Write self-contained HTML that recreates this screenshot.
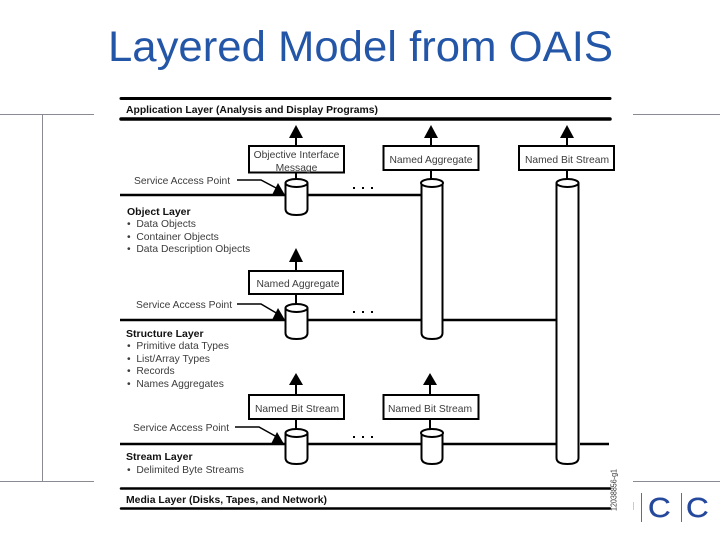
<!DOCTYPE html>
<html>
<head>
<meta charset="utf-8">
<style>
html,body{margin:0;padding:0;background:#fff;width:720px;height:540px;overflow:hidden}
svg{display:block}
text{font-family:"Liberation Sans",sans-serif}
.t{font-size:10.3px;fill:#3c3c3c}
.b{font-size:10.5px;font-weight:bold;fill:#111}
.m{text-anchor:middle}
</style>
</head>
<body>
<svg width="720" height="540" viewBox="0 0 720 540" xmlns="http://www.w3.org/2000/svg">
<!-- slide frame -->
<g stroke="#8a8a92" stroke-width="1" fill="none">
<path d="M0 114.500H94M633 114.500H720M0 481.500H94M633 481.500H720M42.500 114V481"/>
</g>
<text x="108" y="61" font-size="42.500" fill="#2456a8" textLength="505" lengthAdjust="spacingAndGlyphs">Layered Model from OAIS</text>

<!-- layer lines -->
<g stroke="#000" fill="none" stroke-linecap="round">
<path d="M121 98.500H610" stroke-width="3"/>
<path d="M121 119H610" stroke-width="3.500"/>
<path d="M121 488.500H610M121 508.500H610" stroke-width="2.500"/>
</g>
<g stroke="#000" fill="none" stroke-width="2.500">
<path d="M120 195H285M308 195H421"/>
<path d="M120 320H285M308 320H421M443 320H556"/>
<path d="M120 444H285M308 444H421M443 444H556M580 444H609"/>
</g>

<!-- stems -->
<g stroke="#000" fill="none" stroke-width="2">
<path d="M296 136V146M296 172V180M296 260V271M296 293V304M296 383V395M296 420V429"/>
<path d="M431 136V146M431 170V180M430 383V395M430 420V429M567 136V146M567 170V180"/>
</g>
<!-- arrowheads -->
<g fill="#000">
<path d="M296 125L303 138H289Z"/>
<path d="M431 125L438 138H424Z"/>
<path d="M567 125L574 138H560Z"/>
<path d="M296 248L303 262H289Z"/>
<path d="M296 373L303 385H289Z"/>
<path d="M430 373L437 385H423Z"/>
<path d="M278 183L285 195H272Z"/>
<path d="M278 308L285 320H272Z"/>
<path d="M277 432L284 444H271Z"/>
</g>
<!-- service access leaders -->
<g stroke="#000" fill="none" stroke-width="1.500">
<path d="M237 180H261L278 189"/>
<path d="M237 304H261L278 314"/>
<path d="M235 427H259L277 437"/>
</g>

<!-- cylinders -->
<g fill="#fff" stroke="#000" stroke-width="2">
<path d="M285.500 183V209Q285.500 215 296.500 215Q307.500 215 307.500 209V183"/>
<ellipse cx="296.500" cy="183" rx="11" ry="4"/>
<path d="M285.500 308V333Q285.500 339 296.500 339Q307.500 339 307.500 333V308"/>
<ellipse cx="296.500" cy="308" rx="11" ry="4"/>
<path d="M285.500 433V458Q285.500 464 296.500 464Q307.500 464 307.500 458V433"/>
<ellipse cx="296.500" cy="433" rx="11" ry="4"/>
<path d="M421.500 183V333Q421.500 339 432 339Q442.500 339 442.500 333V183"/>
<ellipse cx="432" cy="183" rx="11" ry="4"/>
<path d="M421.500 433V458Q421.500 464 432 464Q442.500 464 442.500 458V433"/>
<ellipse cx="432" cy="433" rx="11" ry="4"/>
<path d="M556.500 183V458Q556.500 464 567.500 464Q578.500 464 578.500 458V183"/>
<ellipse cx="567.500" cy="183" rx="11" ry="4"/>
</g>

<!-- boxes -->
<g fill="#fff" stroke="#000" stroke-width="2">
<rect x="249" y="146" width="95" height="26.500"/>
<rect x="249" y="271" width="94" height="23"/>
<rect x="249" y="395" width="95" height="24"/>
<rect x="383.500" y="146" width="95" height="24"/>
<rect x="519" y="146" width="95" height="24"/>
<rect x="383.500" y="395" width="95" height="24"/>
</g>

<!-- box labels -->
<text class="t m" x="296.500" y="158">Objective Interface</text>
<text class="t m" x="296.500" y="171">Message</text>
<text class="t m" x="298" y="287">Named Aggregate</text>
<text class="t m" x="297" y="412">Named Bit Stream</text>
<text class="t m" x="431" y="163">Named Aggregate</text>
<text class="t m" x="567" y="163">Named Bit Stream</text>
<text class="t m" x="430" y="412">Named Bit Stream</text>

<!-- left labels -->
<text class="b" x="126" y="113" textLength="252" lengthAdjust="spacingAndGlyphs">Application Layer (Analysis and Display Programs)</text>
<text class="t" x="134" y="184">Service Access Point</text>
<text class="b" x="127" y="215">Object Layer</text>
<text class="t" x="127" y="227">•&#160;&#160;Data Objects</text>
<text class="t" x="127" y="240">•&#160;&#160;Container Objects</text>
<text class="t" x="127" y="252">•&#160;&#160;Data Description Objects</text>
<text class="t" x="136" y="308">Service Access Point</text>
<text class="b" x="126" y="337">Structure Layer</text>
<text class="t" x="127" y="349">•&#160;&#160;Primitive data Types</text>
<text class="t" x="127" y="362">•&#160;&#160;List/Array Types</text>
<text class="t" x="127" y="374">•&#160;&#160;Records</text>
<text class="t" x="127" y="387">•&#160;&#160;Names Aggregates</text>
<text class="t" x="133" y="431">Service Access Point</text>
<text class="b" x="126" y="460">Stream Layer</text>
<text class="t" x="127" y="473">•&#160;&#160;Delimited Byte Streams</text>
<text class="b" x="126" y="503" textLength="201" lengthAdjust="spacingAndGlyphs">Media Layer (Disks, Tapes, and Network)</text>

<!-- ellipses -->
<g fill="#000">
<rect x="353" y="187" width="2" height="2"/><rect x="362" y="187" width="2" height="2"/><rect x="371" y="187" width="2" height="2"/>
<rect x="353" y="311" width="2" height="2"/><rect x="362" y="311" width="2" height="2"/><rect x="371" y="311" width="2" height="2"/>
<rect x="353" y="436" width="2" height="2"/><rect x="362" y="436" width="2" height="2"/><rect x="371" y="436" width="2" height="2"/>
</g>

<text x="0" y="0" font-size="8" fill="#333" transform="translate(616.500 511) rotate(-90)" textLength="42" lengthAdjust="spacingAndGlyphs">12038856-g1</text>

<!-- logo -->
<path d="M633.500 502V510" stroke="#c4ccd4" stroke-width="1" fill="none"/>
<g stroke="#2f7fa8" stroke-width="1" fill="none">
<path d="M641.500 493V522M681.500 493V522"/>
</g>
<text transform="translate(648 517) scale(1.12 1)" font-size="28" fill="#24489c" stroke="#24489c" stroke-width=".4">C</text>
<text transform="translate(686 517) scale(1.12 1)" font-size="28" fill="#24489c" stroke="#24489c" stroke-width=".4">C</text>
</svg>
</body>
</html>
